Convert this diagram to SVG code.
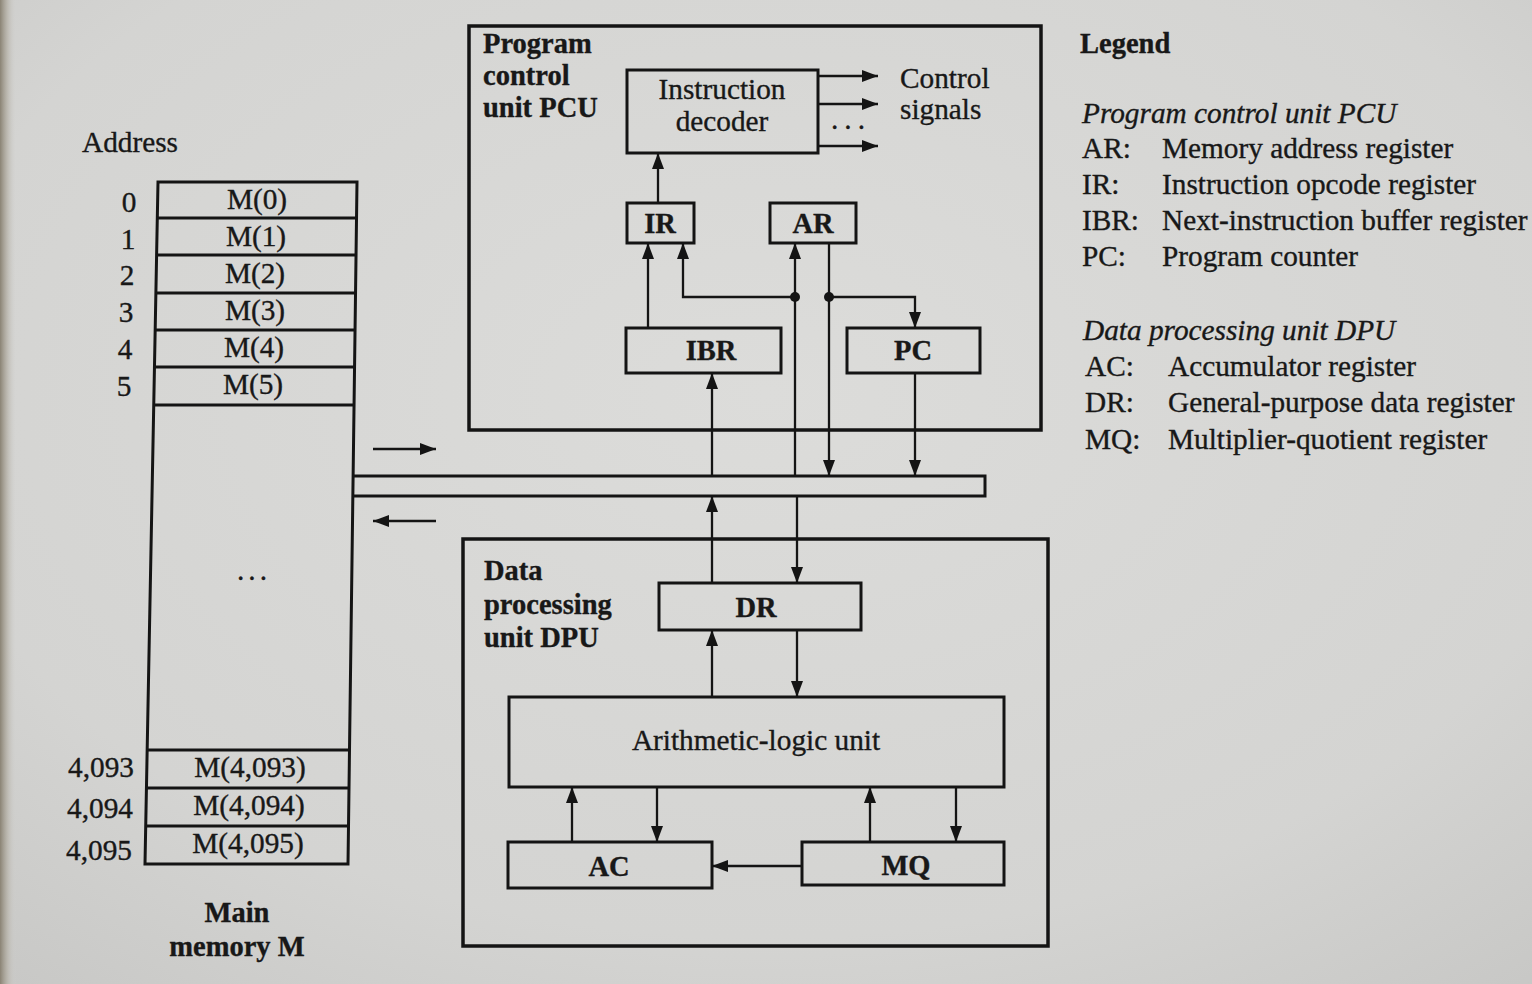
<svg xmlns="http://www.w3.org/2000/svg" width="1532" height="984" viewBox="0 0 1532 984">
<defs>
<radialGradient id="paper" cx="0.5" cy="0.4" r="0.85">
<stop offset="0" stop-color="#dcdcda"/>
<stop offset="0.65" stop-color="#d4d4d2"/>
<stop offset="1" stop-color="#c4c4c2"/>
</radialGradient>
<linearGradient id="edge" x1="0" y1="0" x2="1" y2="0">
<stop offset="0" stop-color="#8a8374"/>
<stop offset="0.5" stop-color="#b8b4aa" stop-opacity="0.7"/>
<stop offset="1" stop-color="#d0d0ce" stop-opacity="0"/>
</linearGradient>
<marker id="ah" markerUnits="userSpaceOnUse" markerWidth="16" markerHeight="12" refX="16" refY="6" orient="auto">
<path d="M0,0 L16,6 L0,12 z" fill="#141414"/>
</marker>
<style>
text{font-family:"Liberation Serif","DejaVu Serif",serif;fill:#181818;stroke:#181818;stroke-width:0.35;font-size:29.3px}
.b{font-weight:bold;font-size:28.5px}
.i{font-style:italic}
.m{text-anchor:middle}
.e{text-anchor:end}
.box{fill:none;stroke:#141414;stroke-width:3}
.frame{fill:none;stroke:#141414;stroke-width:3.5}
.arr{fill:none;stroke:#141414;stroke-width:2.3;marker-end:url(#ah)}
.dot{fill:#141414}
</style>
</defs>
<rect x="0" y="0" width="1532" height="984" fill="url(#paper)"/>
<rect x="0" y="0" width="16" height="984" fill="url(#edge)"/>

<g id="memory">
<path class="box" d="M158,182 L357,182 L348,864 L145,864 Z"/>
<path class="box" d="M157.3,218 H356.5 M156.6,255 H356 M155.9,293 H355.5 M155.2,330 H355 M154.5,367 H354.6 M153.7,405 H354.1 M147.2,750 H349.5 M146.4,788 H349 M145.7,826 H348.5"/>
<text x="82" y="152">Address</text>
<text class="m" x="129" y="212">0</text>
<text class="m" x="128" y="249">1</text>
<text class="m" x="127" y="285">2</text>
<text class="m" x="126" y="322">3</text>
<text class="m" x="125" y="359">4</text>
<text class="m" x="124" y="396">5</text>
<text class="m" x="257" y="209">M(0)</text>
<text class="m" x="256" y="246">M(1)</text>
<text class="m" x="255" y="283">M(2)</text>
<text class="m" x="255" y="320">M(3)</text>
<text class="m" x="254" y="357">M(4)</text>
<text class="m" x="253" y="394">M(5)</text>
<text class="m" x="254" y="580" style="letter-spacing:4px">...</text>
<text class="e" x="134" y="777">4,093</text>
<text class="e" x="133" y="818">4,094</text>
<text class="e" x="132" y="860">4,095</text>
<text class="m" x="250" y="777">M(4,093)</text>
<text class="m" x="249" y="815">M(4,094)</text>
<text class="m" x="248" y="853">M(4,095)</text>
<text class="b m" x="237" y="922">Main</text>
<text class="b m" x="237" y="956">memory M</text>
</g>

<g id="pcu">
<rect class="frame" x="469" y="26" width="572" height="404"/>
<text class="b" x="483" y="53">Program</text>
<text class="b" x="483" y="85">control</text>
<text class="b" x="483" y="117">unit PCU</text>
</g>
<g id="decoder">
<rect class="box" x="627" y="70" width="191" height="83"/>
<text class="m" x="722" y="99">Instruction</text>
<text class="m" x="722" y="131">decoder</text>
</g>
<g id="control-signals">
<text x="900" y="88">Control</text>
<text x="900" y="119">signals</text>
<text x="831" y="129" style="letter-spacing:6px">...</text>
</g>
<g id="ir">
<rect class="box" x="627" y="203" width="67" height="40"/>
<text class="b m" x="660" y="233">IR</text>
</g>
<g id="ar">
<rect class="box" x="770" y="203" width="86" height="40"/>
<text class="b m" x="813" y="233">AR</text>
</g>
<g id="ibr">
<rect class="box" x="626" y="328" width="155" height="45"/>
<text class="b m" x="711" y="360">IBR</text>
</g>
<g id="pc">
<rect class="box" x="847" y="328" width="133" height="45"/>
<text class="b m" x="913" y="360">PC</text>
</g>

<g id="bus">
<path class="box" d="M353,476 H985 V496 H353"/>
</g>

<g id="dpu">
<rect class="frame" x="463" y="539" width="585" height="407"/>
<text class="b" x="484" y="580">Data</text>
<text class="b" x="484" y="614">processing</text>
<text class="b" x="484" y="647">unit DPU</text>
</g>
<g id="dr">
<rect class="box" x="659" y="583" width="202" height="47"/>
<text class="b m" x="756" y="617">DR</text>
</g>
<g id="alu">
<rect class="box" x="509" y="697" width="495" height="90"/>
<text class="m" x="756" y="750">Arithmetic-logic unit</text>
</g>
<g id="ac">
<rect class="box" x="508" y="842" width="204" height="46"/>
<text class="b m" x="609" y="876">AC</text>
</g>
<g id="mq">
<rect class="box" x="802" y="842" width="202" height="43"/>
<text class="b m" x="906" y="875">MQ</text>
</g>

<g id="connectors">
<line class="arr" x1="818" y1="76" x2="878" y2="76"/>
<line class="arr" x1="818" y1="104" x2="878" y2="104"/>
<line class="arr" x1="818" y1="146" x2="878" y2="146"/>
<line class="arr" x1="658" y1="203" x2="658" y2="153"/>
<line class="arr" x1="648" y1="328" x2="648" y2="243"/>
<path class="arr" d="M795,297 H683 V243"/>
<line class="arr" x1="795" y1="476" x2="795" y2="243"/>
<line class="arr" x1="829" y1="243" x2="829" y2="476"/>
<path class="arr" d="M829,297 H915 V328"/>
<line class="arr" x1="915" y1="373" x2="915" y2="476"/>
<line class="arr" x1="712" y1="476" x2="712" y2="373"/>
<circle class="dot" cx="795" cy="297" r="5"/>
<circle class="dot" cx="829" cy="297" r="5"/>
<line class="arr" x1="373" y1="449" x2="436" y2="449"/>
<line class="arr" x1="436" y1="521" x2="373" y2="521"/>
<line class="arr" x1="712" y1="583" x2="712" y2="496"/>
<line class="arr" x1="797" y1="496" x2="797" y2="583"/>
<line class="arr" x1="712" y1="697" x2="712" y2="630"/>
<line class="arr" x1="797" y1="630" x2="797" y2="697"/>
<line class="arr" x1="572" y1="842" x2="572" y2="787"/>
<line class="arr" x1="657" y1="787" x2="657" y2="842"/>
<line class="arr" x1="870" y1="842" x2="870" y2="787"/>
<line class="arr" x1="956" y1="787" x2="956" y2="842"/>
<line class="arr" x1="802" y1="866" x2="712" y2="866"/>
</g>

<g id="legend">
<text class="b" x="1080" y="53">Legend</text>
<text class="i" x="1082" y="123">Program control unit PCU</text>
<text x="1082" y="158">AR:</text>
<text x="1162" y="158">Memory address register</text>
<text x="1082" y="194">IR:</text>
<text x="1162" y="194">Instruction opcode register</text>
<text x="1082" y="230">IBR:</text>
<text x="1162" y="230">Next-instruction buffer register</text>
<text x="1082" y="266">PC:</text>
<text x="1162" y="266">Program counter</text>
<text class="i" x="1083" y="340">Data processing unit DPU</text>
<text x="1085" y="376">AC:</text>
<text x="1168" y="376">Accumulator register</text>
<text x="1085" y="412">DR:</text>
<text x="1168" y="412">General-purpose data register</text>
<text x="1085" y="449">MQ:</text>
<text x="1168" y="449">Multiplier-quotient register</text>
</g>
</svg>
